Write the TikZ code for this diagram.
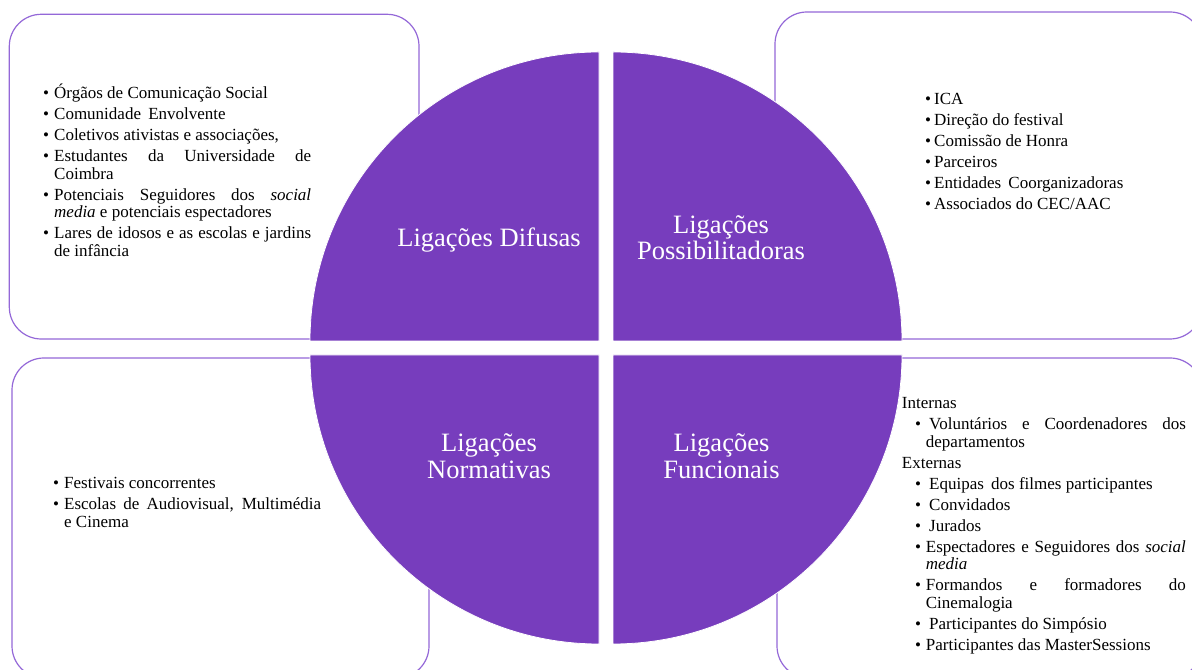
\documentclass[tikz,border=0pt]{standalone}
\usepackage{fontspec}
\setmainfont{Liberation Serif}
\definecolor{quadfill}{HTML}{773DBD}
\definecolor{boxline}{HTML}{9468D8}
\newcommand{\bitem}[3]{\noindent\hangindent=#1\hangafter=1\hspace*{#2}\makebox[\dimexpr#1-#2\relax][l]{\textbullet}#3\par}
\tikzset{
  box/.style={draw=boxline, line width=1.2bp, rounded corners=32bp, fill=white},
  quad/.style={fill=quadfill, draw=white, line width=0.8bp},
  qlabel/.style={text=white, font=\fontsize{26.5bp}{26.5bp}\selectfont, align=center, inner sep=0pt, anchor=base},
  list/.style={inner sep=0pt, anchor=base west, align=justify, font=\fontsize{17bp}{17.8bp}\selectfont}
}
\begin{document}
\begin{tikzpicture}[x=1bp,y=1bp]
\useasboundingbox (0,0) rectangle (1192,670);
\clip (0,0) rectangle (1192,670);
\fill[white] (0,0) rectangle (1192,670);
% boxes
\draw[box] (9.3,655.7) rectangle (419,331);
\draw[box] (775,658) rectangle (1202,331);
\draw[box] (12,312) rectangle (429,-8);
\draw[box] (777,312) rectangle (1202,-8);
% quadrants
\draw[quad] (599,329) -- (310,329) arc[start angle=180, end angle=90, radius=289bp] -- cycle;
\draw[quad] (613,329) -- (613,618) arc[start angle=90, end angle=0, radius=289bp] -- cycle;
\draw[quad] (599,315) -- (310,315) arc[start angle=180, end angle=270, radius=289bp] -- cycle;
\draw[quad] (613,315) -- (902,315) arc[start angle=0, end angle=-90, radius=289bp] -- cycle;
% labels (base = last line)
\node[qlabel] (difusas) at (489,423.5) {Ligações Difusas};
\node[qlabel] (possib) at (721,410) {Ligações\\Possibilitadoras};
\node[qlabel] (normat) at (489,191.5) {Ligações\\Normativas};
\node[qlabel] (funcion) at (721.5,191.5) {Ligações\\Funcionais};
% lists
\node[list, text width=268bp] (listTL) at (43,571.7) {\setlength{\parskip}{3.2bp}%
\bitem{11bp}{0bp}{Órgãos de Comunicação Social}%
\bitem{11bp}{0bp}{Comunidade\hspace{3bp} Envolvente}%
\bitem{11bp}{0bp}{Coletivos ativistas e associações,}%
\bitem{11bp}{0bp}{Estudantes da Universidade de\linebreak Coimbra}%
\bitem{11bp}{0bp}{Potenciais Seguidores dos \textit{social}\linebreak \textit{media} e potenciais espectadores}%
\bitem{11bp}{0bp}{Lares de idosos e as escolas e jardins\linebreak de infância}};
\node[list, text width=260bp] (listTR) at (925,565.7) {\setlength{\parskip}{3.2bp}%
\bitem{9bp}{0bp}{ICA}%
\bitem{9bp}{0bp}{Direção do festival}%
\bitem{9bp}{0bp}{Comissão de Honra}%
\bitem{9bp}{0bp}{Parceiros}%
\bitem{9bp}{0bp}{Entidades\hspace{3bp} Coorganizadoras}%
\bitem{9bp}{0bp}{Associados do CEC/AAC}};
\node[list, text width=268bp] (listBL) at (53,181.7) {\setlength{\parskip}{3.2bp}%
\bitem{11bp}{0bp}{Festivais concorrentes}%
\bitem{11bp}{0bp}{Escolas de Audiovisual, Multimédia\linebreak e Cinema}};
\node[list, text width=284bp] (listBR) at (901.7,261.7) {\setlength{\parskip}{3.2bp}%
\noindent Internas\par
\bitem{24bp}{13.3bp}{\hspace*{3.3bp}Voluntários e Coordenadores dos\linebreak departamentos}%
\noindent Externas\par
\bitem{24bp}{13.3bp}{\hspace*{3.3bp}Equipas\hspace{3bp} dos filmes participantes}%
\bitem{24bp}{13.3bp}{\hspace*{3.3bp}Convidados}%
\bitem{24bp}{13.3bp}{\hspace*{3.3bp}Jurados}%
\bitem{24bp}{13.3bp}{Espectadores e Seguidores dos \textit{social}\linebreak \textit{media}}%
\bitem{24bp}{13.3bp}{Formandos e formadores do\linebreak Cinemalogia}%
\bitem{24bp}{13.3bp}{\hspace*{3.3bp}Participantes do Simpósio}%
\bitem{24bp}{13.3bp}{Participantes das MasterSessions}};
\end{tikzpicture}
\end{document}
